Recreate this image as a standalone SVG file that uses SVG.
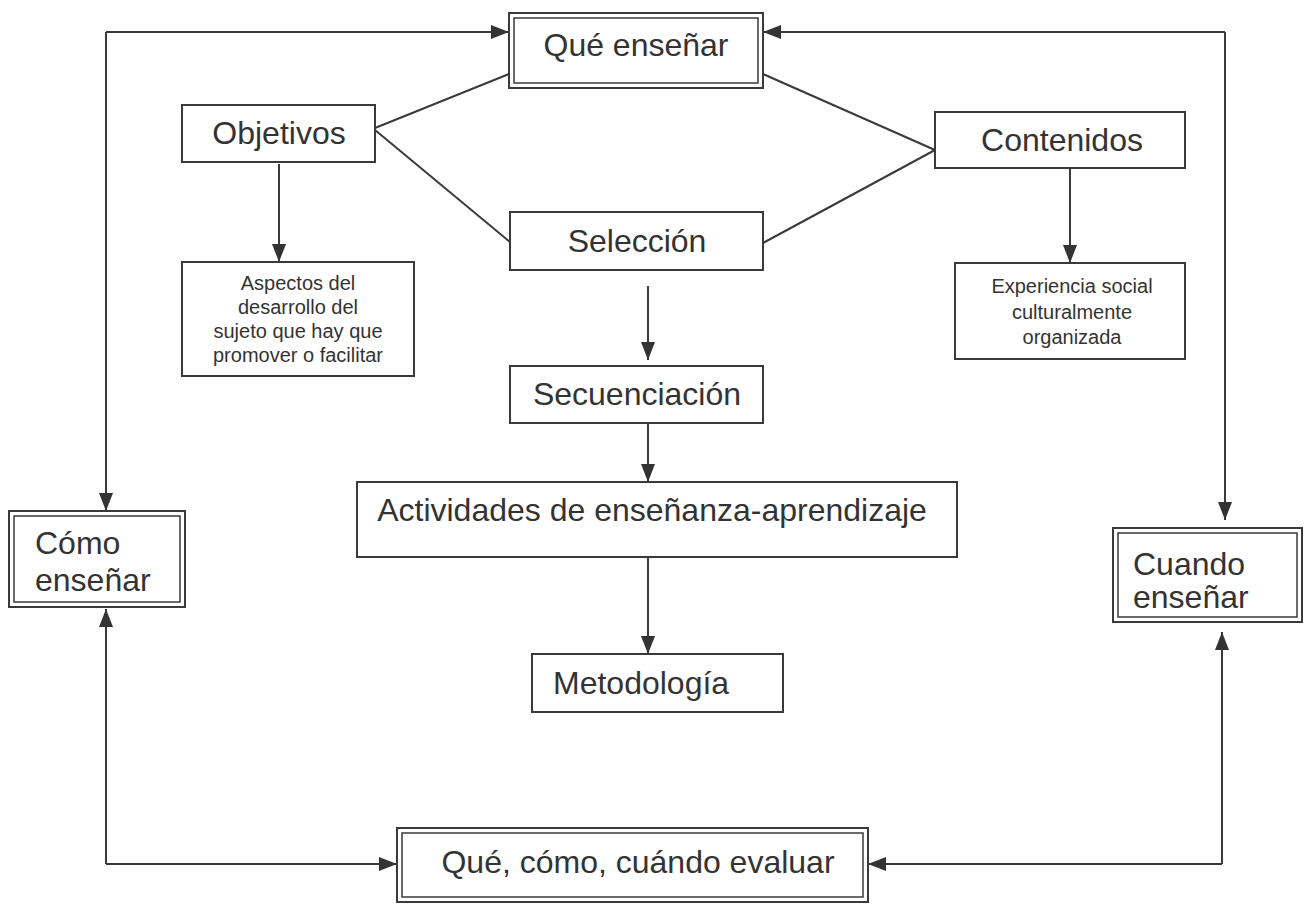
<svg xmlns="http://www.w3.org/2000/svg" width="1309" height="906" viewBox="0 0 1309 906">
<style>
  .box{fill:#fff;stroke:#3a3a3a;stroke-width:2}
  .inner{fill:none;stroke:#3a3a3a;stroke-width:1.5}
  .big{font-family:"Liberation Sans",Arial,sans-serif;font-size:32px;fill:#333}
  .small{font-family:"Liberation Sans",Arial,sans-serif;font-size:20px;fill:#333;text-anchor:middle}
  .c{text-anchor:middle}
  .ln{fill:none;stroke:#3a3a3a;stroke-width:2}
  .ar{fill:none;stroke:#3a3a3a;stroke-width:2;marker-end:url(#ah)}
</style>
<defs>
  <marker id="ah" markerUnits="userSpaceOnUse" markerWidth="18" markerHeight="14" refX="18" refY="7" orient="auto">
    <path d="M0,0 L18,7 L0,14 z" fill="#333"/>
  </marker>
</defs>
<rect width="1309" height="906" fill="#fff"/>
<g id="connectors">
  <polyline class="ar" points="106,32 509,32"/>
  <polyline class="ar" points="106,32 106,511"/>
  <polyline class="ar" points="1225,32 763,32"/>
  <polyline class="ar" points="1225,32 1225,520"/>
  <polyline class="ar" points="106,864 106,609"/>
  <polyline class="ar" points="106,864 397,864"/>
  <polyline class="ar" points="1222,864 868,864"/>
  <polyline class="ar" points="1222,864 1222,632"/>
  <line class="ln" x1="375" y1="128" x2="509" y2="74"/>
  <line class="ln" x1="375" y1="130" x2="510" y2="242"/>
  <line class="ln" x1="935" y1="150" x2="763" y2="74"/>
  <line class="ln" x1="935" y1="150" x2="763" y2="243"/>
  <line class="ar" x1="279" y1="164" x2="279" y2="262"/>
  <line class="ar" x1="1070" y1="168" x2="1070" y2="263"/>
  <line class="ar" x1="648" y1="286" x2="648" y2="360"/>
  <line class="ar" x1="648" y1="423" x2="648" y2="482"/>
  <line class="ar" x1="648" y1="557" x2="648" y2="654"/>
</g>
<g id="que-ensenar">
  <rect class="box" x="509" y="13" width="254" height="75"/>
  <rect class="inner" x="514" y="18" width="244" height="65"/>
  <text class="big c" x="636" y="56">Qué enseñar</text>
</g>
<g id="objetivos">
  <rect class="box" x="182" y="105" width="193" height="57"/>
  <text class="big c" x="279" y="144">Objetivos</text>
</g>
<g id="contenidos">
  <rect class="box" x="935" y="112" width="250" height="56"/>
  <text class="big c" x="1062" y="151">Contenidos</text>
</g>
<g id="seleccion">
  <rect class="box" x="510" y="212" width="253" height="58"/>
  <text class="big c" x="637" y="252">Selección</text>
</g>
<g id="aspectos">
  <rect class="box" x="182" y="262" width="232" height="114"/>
  <text class="small" x="298" y="290">Aspectos del</text>
  <text class="small" x="298" y="314">desarrollo del</text>
  <text class="small" x="298" y="338">sujeto que hay que</text>
  <text class="small" x="298" y="362">promover o facilitar</text>
</g>
<g id="experiencia">
  <rect class="box" x="955" y="263" width="230" height="96"/>
  <text class="small" x="1072" y="293">Experiencia social</text>
  <text class="small" x="1072" y="319">culturalmente</text>
  <text class="small" x="1072" y="344">organizada</text>
</g>
<g id="secuenciacion">
  <rect class="box" x="510" y="366" width="253" height="57"/>
  <text class="big c" x="637" y="405">Secuenciación</text>
</g>
<g id="actividades">
  <rect class="box" x="357" y="482" width="600" height="75"/>
  <text class="big c" x="652" y="521">Actividades de enseñanza-aprendizaje</text>
</g>
<g id="metodologia">
  <rect class="box" x="532" y="654" width="251" height="58"/>
  <text class="big" x="553" y="694">Metodología</text>
</g>
<g id="como-ensenar">
  <rect class="box" x="9" y="511" width="176" height="96"/>
  <rect class="inner" x="14" y="516" width="166" height="86"/>
  <text class="big" x="35" y="554">Cómo</text>
  <text class="big" x="35" y="591">enseñar</text>
</g>
<g id="cuando-ensenar">
  <rect class="box" x="1113" y="528" width="189" height="94"/>
  <rect class="inner" x="1118" y="533" width="179" height="84"/>
  <text class="big" x="1133" y="575">Cuando</text>
  <text class="big" x="1133" y="608">enseñar</text>
</g>
<g id="evaluar">
  <rect class="box" x="397" y="828" width="471" height="74"/>
  <rect class="inner" x="402" y="833" width="461" height="64"/>
  <text class="big c" x="638" y="873">Qué, cómo, cuándo evaluar</text>
</g>
</svg>
